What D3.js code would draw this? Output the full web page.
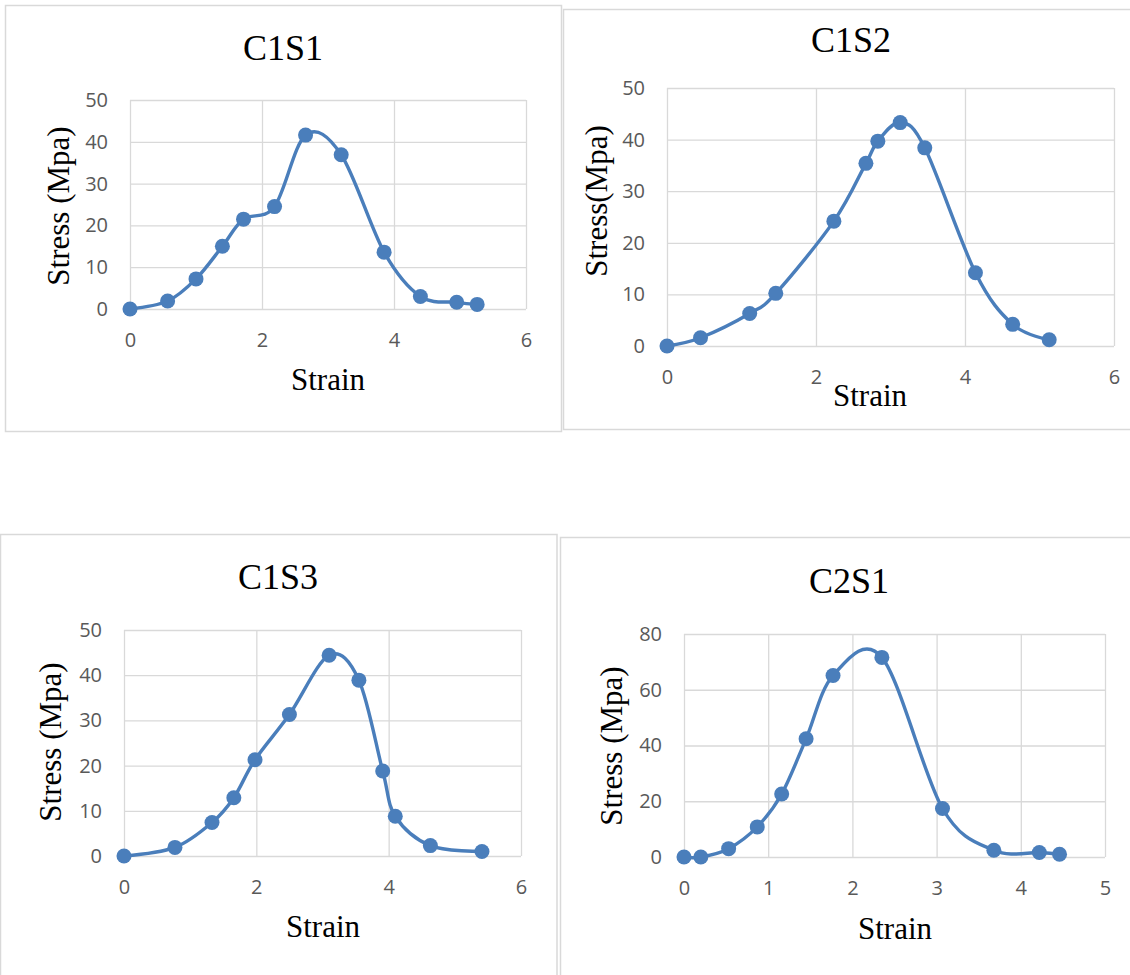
<!DOCTYPE html>
<html>
<head>
<meta charset="utf-8">
<script src="https://cdn.jsdelivr.net/npm/d3@7"></script>
<style>
  html, body { margin: 0; padding: 0; background: #ffffff; }
  svg { display: block; }
</style>
</head>
<body>
<svg id="chart" width="1130" height="975"></svg>
<script>
// Stress–strain test results, one array pair per specimen
const c1s1Strain = [0, 0.57, 1.0, 1.40, 1.72, 2.19, 2.66, 3.20, 3.85, 4.40, 4.95, 5.26];
const c1s1Stress = [0, 1.9, 7.2, 15.0, 21.5, 24.5, 41.6, 36.9, 13.6, 3.0, 1.6, 1.1];

const c1s2Strain = [0, 0.45, 1.11, 1.46, 2.24, 2.67, 2.83, 3.13, 3.46, 4.14, 4.64, 5.13];
const c1s2Stress = [0, 1.6, 6.3, 10.2, 24.2, 35.4, 39.7, 43.3, 38.4, 14.2, 4.2, 1.2];

const c1s3Strain = [0, 0.77, 1.33, 1.66, 1.98, 2.50, 3.10, 3.55, 3.91, 4.10, 4.63, 5.41];
const c1s3Stress = [0, 1.9, 7.4, 12.9, 21.3, 31.3, 44.4, 38.9, 18.8, 8.8, 2.3, 1.0];

const c2s1Strain = [0, 0.20, 0.53, 0.87, 1.16, 1.45, 1.77, 2.35, 3.07, 3.68, 4.22, 4.46];
const c2s1Stress = [0, 0, 3.0, 10.8, 22.6, 42.4, 65.1, 71.6, 17.4, 2.4, 1.6, 1.0];

// Axis tick values
const strainTicks6 = [0, 2, 4, 6];
const strainTicks5 = [0, 1, 2, 3, 4, 5];
const stressTicks50 = [0, 10, 20, 30, 40, 50];
const stressTicks80 = [0, 20, 40, 60, 80];

const titles = ["C1S1", "C1S2", "C1S3", "C2S1"];
const yTitles = ["Stress (Mpa)", "Stress(Mpa)", "Stress (Mpa)", "Stress (Mpa)"];
const xTitle = "Strain";

// Panel layout (frame, plot area, text anchors)
const panels = [
  { strain: c1s1Strain, stress: c1s1Stress, xTicks: strainTicks6, yTicks: stressTicks50,
    frame: [5.5, 5.5, 556, 426], plot: [130, 526, 100, 309],
    titlePos: [283, 60], yTitlePos: [69, 206], xTitlePos: [328, 390] },
  { strain: c1s2Strain, stress: c1s2Stress, xTicks: strainTicks6, yTicks: stressTicks50,
    frame: [563.5, 9.5, 600, 420], plot: [667, 1114, 88, 346],
    titlePos: [851, 52], yTitlePos: [607, 201], xTitlePos: [870, 406] },
  { strain: c1s3Strain, stress: c1s3Stress, xTicks: strainTicks6, yTicks: stressTicks50,
    frame: [0.5, 534.5, 556.5, 500], plot: [124, 521, 630, 856],
    titlePos: [278, 589], yTitlePos: [61, 742], xTitlePos: [323, 937] },
  { strain: c2s1Strain, stress: c2s1Stress, xTicks: strainTicks5, yTicks: stressTicks80,
    frame: [560.5, 537.5, 600, 500], plot: [684, 1105, 634, 857],
    titlePos: [849, 593], yTitlePos: [622, 746], xTitlePos: [895, 939] }
];

const lineColor = "#4a7ebb";
const gridColor = "#d9d9d9";
const tickColor = "#595959";
const serif = "'Liberation Serif', 'Times New Roman', serif";
const sans = "'Open Sans', 'Noto Sans', sans-serif";

const svg = d3.select("#chart");

panels.forEach((p, i) => {
  const [left, right, top, bottom] = p.plot;
  const g = svg.append("g");

  // chart frame
  g.append("rect")
    .attr("x", p.frame[0]).attr("y", p.frame[1])
    .attr("width", p.frame[2]).attr("height", p.frame[3])
    .attr("fill", "#ffffff")
    .attr("stroke", gridColor)
    .attr("stroke-width", 1.5);

  const x = d3.scaleLinear()
    .domain([p.xTicks[0], p.xTicks[p.xTicks.length - 1]])
    .range([left, right]);
  const y = d3.scaleLinear()
    .domain([p.yTicks[0], p.yTicks[p.yTicks.length - 1]])
    .range([bottom, top]);

  // horizontal gridlines + stress labels
  const yAxis = g.append("g")
    .attr("transform", `translate(${left},0)`)
    .call(d3.axisLeft(y).tickValues(p.yTicks).tickSize(-(right - left))
      .tickPadding(22).tickFormat(d3.format("d")));

  // vertical gridlines + strain labels
  const xAxis = g.append("g")
    .attr("transform", `translate(0,${bottom})`)
    .call(d3.axisBottom(x).tickValues(p.xTicks).tickSize(-(bottom - top))
      .tickPadding(24).tickFormat(d3.format("d")));

  [yAxis, xAxis].forEach(a => {
    a.select(".domain").remove();
    a.selectAll(".tick line").attr("stroke", gridColor).attr("stroke-width", 1.3);
    a.selectAll(".tick text")
      .attr("fill", tickColor)
      .style("font-family", sans)
      .style("font-size", "20px");
  });

  // smoothed curve through the measured points
  const pts = p.strain.map((s, k) => [s, p.stress[k]]);
  const line = d3.line()
    .x(d => x(d[0]))
    .y(d => y(d[1]))
    .curve(d3.curveCardinal.tension(0));

  g.append("path")
    .datum(pts)
    .attr("d", line)
    .attr("fill", "none")
    .attr("stroke", lineColor)
    .attr("stroke-width", 3.4)
    .attr("stroke-linejoin", "round");

  g.selectAll("circle.pt")
    .data(pts)
    .join("circle")
    .attr("class", "pt")
    .attr("cx", d => x(d[0]))
    .attr("cy", d => y(d[1]))
    .attr("r", 7.5)
    .attr("fill", lineColor);

  // titles
  g.append("text")
    .attr("x", p.titlePos[0]).attr("y", p.titlePos[1])
    .attr("text-anchor", "middle")
    .style("font-family", serif).style("font-size", "36px")
    .attr("fill", "#000000")
    .text(titles[i]);

  g.append("text")
    .attr("transform", `translate(${p.yTitlePos[0]},${p.yTitlePos[1]}) rotate(-90)`)
    .attr("text-anchor", "middle")
    .style("font-family", serif).style("font-size", "31px")
    .attr("fill", "#000000")
    .text(yTitles[i]);

  g.append("text")
    .attr("x", p.xTitlePos[0]).attr("y", p.xTitlePos[1])
    .attr("text-anchor", "middle")
    .style("font-family", serif).style("font-size", "31px")
    .attr("fill", "#000000")
    .text(xTitle);
});
</script>
</body>
</html>
